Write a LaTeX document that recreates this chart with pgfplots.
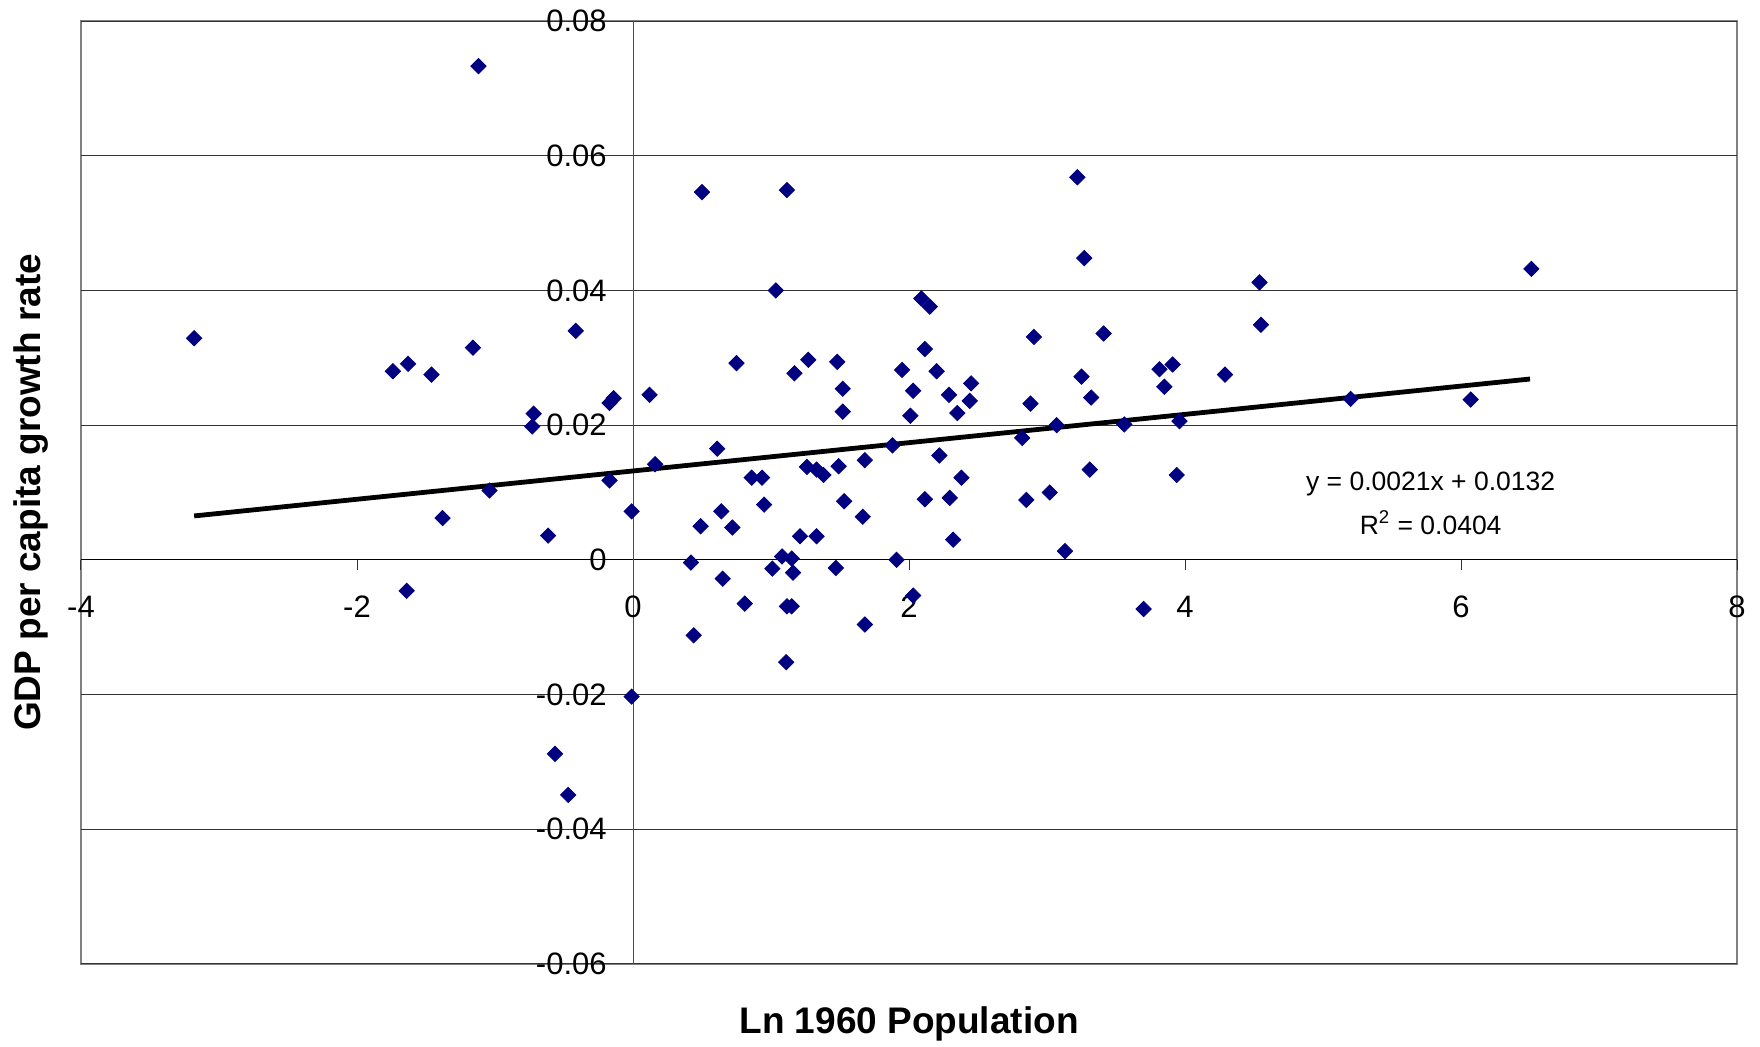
\documentclass[border=0pt]{standalone}
\usepackage{fontspec}
\setmainfont{Liberation Sans}
\usepackage{pgfplots}
\pgfplotsset{compat=1.18}
\definecolor{navymark}{HTML}{000080}
\begin{document}
\begin{tikzpicture}
\path[use as bounding box] (-40.5pt,-41.5pt) rectangle (839.5pt,482pt);
\begin{axis}[
  scale only axis, width=828pt, height=471.5pt,
  xmin=-4, xmax=8, ymin=-0.06, ymax=0.08,
  axis lines=middle,
  axis line style={-, line width=0.5pt},
  x axis line style={black},
  y axis line style={black!70},
  hide obscured x ticks=false, hide obscured y ticks=false,
  xtick={-4,-2,0,2,4,6,8}, xticklabels={-4,-2,0,2,4,6,8},
  ytick={-0.06,-0.04,-0.02,0,0.02,0.04,0.06,0.08},
  yticklabels={-0.06,-0.04,-0.02,0,0.02,0.04,0.06,0.08},
  tick align=outside, major tick length=5pt,
  tick style={black!80, line width=0.5pt},
  ymajorgrids, grid style={black!80, line width=0.5pt},
  axis background/.style={draw=black!50, line width=1.2pt},
  ticklabel style={font=\fontsize{15.5}{18}\selectfont, inner sep=0pt},
  xticklabel style={anchor=north, yshift=-13pt},
  yticklabel style={anchor=east, xshift=-8pt},
  xlabel={Ln 1960 Population}, ylabel={GDP per capita growth rate},
  every axis x label/.style={at={(axis description cs:0.5,-0.0636)}, anchor=center, font=\bfseries\fontsize{18.5}{22}\selectfont},
  every axis y label/.style={at={(axis description cs:-0.030,0.5)}, anchor=center, rotate=90, font=\bfseries\fontsize{18.5}{22}\selectfont},
  clip=false,
]
\addplot[only marks, mark=square*, mark size=2.7pt, mark options={rotate=45, fill=navymark, draw=navymark}] coordinates {
(-3.18,0.0329)(-1.74,0.0280)(-1.63,0.0291)(-1.46,0.0275)(-1.16,0.0315)(-1.12,0.0733)
(-1.38,0.0062)(-1.04,0.0103)(-1.64,-0.0046)(-0.72,0.0217)(-0.73,0.0198)(-0.615,0.0036)
(-0.415,0.0340)(-0.565,-0.0288)(-0.47,-0.0349)(-0.17,0.0233)(-0.14,0.0240)(-0.17,0.0118)
(-0.01,0.0072)(-0.01,-0.0203)(0.12,0.0245)(0.16,0.0142)(0.42,-0.0004)(0.44,-0.0112)
(0.49,0.0050)(0.50,0.0546)(0.61,0.0165)(0.64,0.0072)(0.65,-0.0028)(0.72,0.0048)
(0.75,0.0292)(0.81,-0.0065)(0.86,0.0122)(0.935,0.0122)(0.95,0.0082)(1.01,-0.0013)
(1.035,0.0400)(1.08,0.0005)(1.115,-0.0069)(1.11,-0.0152)(1.115,0.0549)(1.15,0.0002)
(1.16,-0.0019)(1.15,-0.0069)(1.17,0.0277)(1.21,0.0035)(1.26,0.0138)(1.27,0.0297)
(1.33,0.0035)(1.33,0.0134)(1.38,0.0126)(1.47,-0.0012)(1.48,0.0294)(1.49,0.0139)
(1.52,0.0254)(1.52,0.0220)(1.53,0.0087)(1.665,0.0064)(1.68,0.0148)(1.68,-0.0096)
(1.88,0.0170)(1.91,0.0000)(1.95,0.0282)(2.01,0.0214)(2.03,0.0251)(2.03,-0.0053)
(2.09,0.0388)(2.15,0.0376)(2.115,0.0313)(2.115,0.0090)(2.20,0.0280)(2.22,0.0155)
(2.29,0.0245)(2.295,0.0092)(2.32,0.0030)(2.35,0.0218)(2.38,0.0122)(2.44,0.0236)
(2.45,0.0262)(2.82,0.0181)(2.85,0.0089)(2.88,0.0232)(2.905,0.0331)(3.02,0.0100)
(3.07,0.0200)(3.13,0.0013)(3.22,0.0568)(3.25,0.0272)(3.27,0.0448)(3.32,0.0241)
(3.31,0.0134)(3.41,0.0336)(3.56,0.0201)(3.70,-0.0073)(3.815,0.0283)(3.85,0.0257)
(3.91,0.0290)(3.94,0.0126)(3.96,0.0206)(4.29,0.0275)(4.54,0.0412)(4.55,0.0349)
(5.20,0.0239)(6.07,0.0238)(6.51,0.0432)
};
% linear trend line, y = 0.0021x + 0.0132
\addplot[black, line width=2.4pt, no marks] coordinates {(-3.18,0.00652)(6.50,0.02685)};
\node[font=\fontsize{13.25}{15}\selectfont] at (axis cs:5.78,0.0112) {y = 0.0021x + 0.0132};
\node[font=\fontsize{13.25}{15}\selectfont] at (axis cs:5.78,0.0055) {R\textsuperscript{2} = 0.0404};
\end{axis}
\end{tikzpicture}
\end{document}
